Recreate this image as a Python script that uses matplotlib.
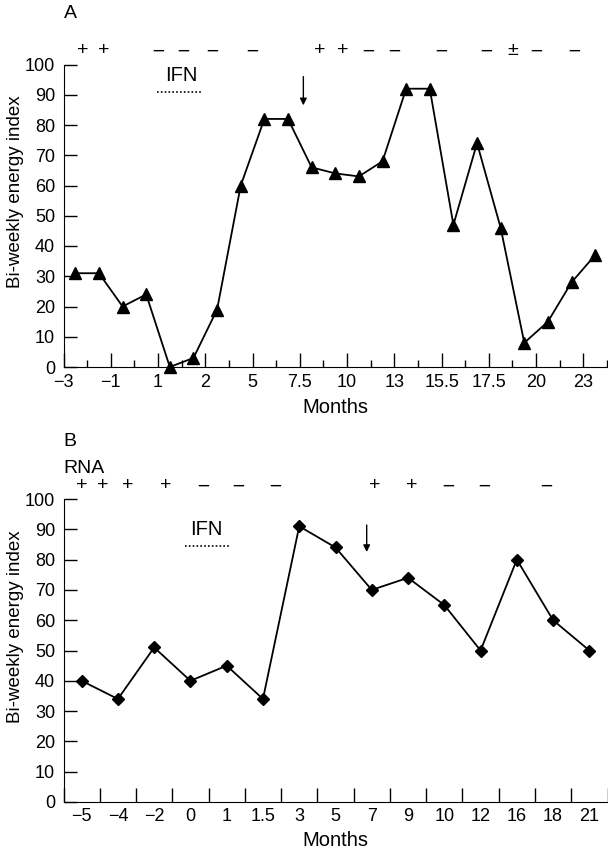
import matplotlib.pyplot as plt

plt.rcParams['font.family'] = ['Liberation Sans', 'DejaVu Sans']

# panel A: month labels (every second bin edge) and the bi-weekly values
a_month_labels = ['\u22123', '\u22121', '1', '2', '5', '7.5', '10', '13',
                  '15.5', '17.5', '20', '23']
a_values = [31, 31, 20, 24, 0, 3, 19, 60, 82, 82, 66, 64, 63, 68, 92, 92,
            47, 74, 46, 8, 15, 28, 37]
a_rna = ['+', '+', '\u2212', '\u2212', '\u2212', '\u2212', '+', '+', '\u2212',
         '\u2212', '\u2212', '\u2212', '\u00b1', '\u2212', '\u2212']
a_rna_at = [0.8, 1.7, 4.0, 5.05, 6.3, 8.0, 10.85, 11.8, 12.9, 14.0, 16.0,
            17.9, 19.0, 20.0, 21.6]

# panel B
b_month_labels = ['\u22125', '\u22124', '\u22122', '0', '1', '1.5', '3', '5',
                  '7', '9', '10', '12', '16', '18', '21']
b_values = [40, 34, 51, 40, 45, 34, 91, 84, 70, 74, 65, 50, 80, 60, 50]
b_rna = ['+', '+', '+', '+', '\u2212', '\u2212', '\u2212', '+', '+',
         '\u2212', '\u2212', '\u2212']
b_rna_at = [0.51, 1.09, 1.78, 2.82, 3.84, 4.83, 5.85, 8.58, 9.6, 10.6,
            11.6, 13.3]

fig = plt.figure(figsize=(6.08, 8.52), dpi=100)
axA = fig.add_axes([63.5 / 608, 1 - 367 / 852, 543.5 / 608, 302.5 / 852])
axB = fig.add_axes([63.5 / 608, 1 - 802 / 852, 544 / 608, 303 / 852])

tick_fs = 13
lab_fs = 13.5


def style_axis(ax):
    for s in ['top', 'right']:
        ax.spines[s].set_visible(False)
    ax.spines['left'].set_bounds(0, 100)
    ax.set_ylim(0, 100)
    ax.set_yticks(range(0, 101, 10))
    ax.tick_params(axis='y', direction='in', length=9.5, width=1,
                   labelsize=tick_fs, pad=6)
    ax.set_xlabel('Months', fontsize=14.5, labelpad=5)
    ax.set_ylabel('Bi-weekly energy index', fontsize=lab_fs)
    ax.yaxis.set_label_coords(-0.073, 0.578)


def rna_row(ax, signs, xs, y):
    for s, x in zip(signs, xs):
        if s == '\u2212':
            ax.text(x, y, s, ha='center', va='center', fontsize=12,
                    family='DejaVu Sans', clip_on=False)
        else:
            ax.text(x, y, s, ha='center', va='center', fontsize=14,
                    clip_on=False)


# ---- A ----
xa = [i + 0.5 for i in range(len(a_values))]
axA.plot(xa, a_values, color='black', lw=1.3, marker='^', ms=8.5,
         clip_on=False)
axA.set_xlim(0, 23)
axA.set_xticks(range(0, 23, 2))
axA.set_xticklabels(a_month_labels)
axA.set_xticks(range(1, 24, 2), minor=True)
axA.tick_params(axis='x', which='major', direction='in', length=10,
                width=1, labelsize=tick_fs, pad=5)
axA.tick_params(axis='x', which='minor', direction='in', length=5, width=1)
style_axis(axA)

rna_row(axA, a_rna, a_rna_at, 104.6)
axA.text(4.98, 96.4, 'IFN', ha='center', va='center', fontsize=14.5)
axA.plot([3.96, 5.87], [91, 91], color='black', lw=1.2, ls=(0, (1, 1.3)))
axA.annotate('', xy=(10.15, 86.5), xytext=(10.15, 96),
             arrowprops=dict(arrowstyle='-|>', color='black', lw=1,
                             mutation_scale=10, shrinkA=0, shrinkB=0))
axA.text(0, 1.167, 'A', transform=axA.transAxes, ha='left', va='center',
         fontsize=14)

# ---- B ----
xb = [i + 0.5 for i in range(len(b_values))]
axB.plot(xb, b_values, color='black', lw=1.3, marker='D', ms=6.5,
         clip_on=False)
axB.set_xlim(0, 15)
axB.set_xticks(range(0, 16))
axB.set_xticklabels([])
axB.set_xticks(xb, minor=True)
axB.set_xticklabels(b_month_labels, minor=True)
axB.tick_params(axis='x', which='major', direction='in', length=10, width=1)
axB.tick_params(axis='x', which='minor', length=0, labelsize=tick_fs, pad=4)
style_axis(axB)

rna_row(axB, b_rna, b_rna_at, 104.3)
axB.text(3.95, 89.8, 'IFN', ha='center', va='center', fontsize=14.5)
axB.plot([3.35, 4.56], [84.5, 84.5], color='black', lw=1.2, ls=(0, (1, 1.3)))
axB.annotate('', xy=(8.36, 82.5), xytext=(8.36, 91.4),
             arrowprops=dict(arrowstyle='-|>', color='black', lw=1,
                             mutation_scale=10, shrinkA=0, shrinkB=0))
axB.text(0, 1.191, 'B', transform=axB.transAxes, ha='left', va='center',
         fontsize=14)
axB.text(0, 1.102, 'RNA', transform=axB.transAxes, ha='left', va='center',
         fontsize=14)

plt.savefig('out.png', dpi=100)
